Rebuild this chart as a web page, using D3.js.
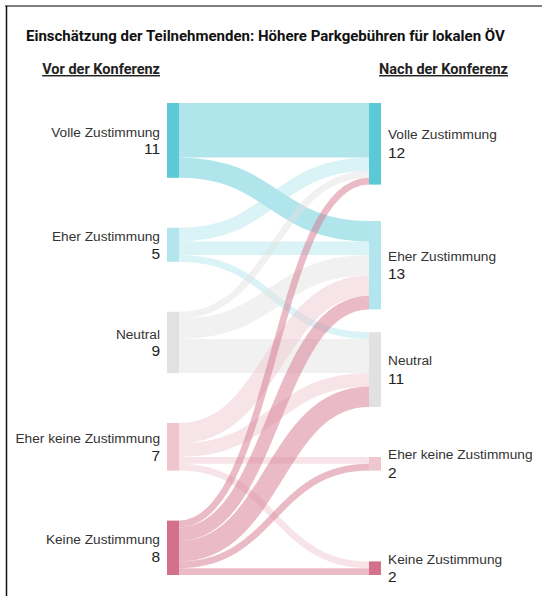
<!DOCTYPE html>
<html>
<head>
<meta charset="utf-8">
<script src="https://cdn.jsdelivr.net/npm/d3@7"></script>
<style>
  html, body { margin: 0; padding: 0; background: #fff; }
  svg { display: block; }
</style>
</head>
<body>
<svg id="chart"></svg>
<script>
// chart size
const width = 542;
const height = 596;

// answer categories, same on both sides
const categories = ["Volle Zustimmung", "Eher Zustimmung", "Neutral", "Eher keine Zustimmung", "Keine Zustimmung"];

// totals per category before / after
const before = [11, 5, 9, 7, 8];
const after = [12, 13, 11, 2, 2];

// flows: rows = before, columns = after
const flows = [
    [8, 3, 0, 0, 0],
    [2, 2, 1, 0, 0],
    [1, 3, 5, 0, 0],
    [0, 3, 2, 1, 1],
    [1, 2, 3, 1, 1]
];

const title = "Einschätzung der Teilnehmenden: Höhere Parkgebühren für lokalen ÖV";
const headers = ["Vor der Konferenz", "Nach der Konferenz"];

// node colours per category
const colors = ["#5cc9d7", "#b2e5ee", "#e1e1e1", "#efc6d0", "#d4718a"];

// layout
const yTop = 103, yBottom = 575;
const leftX = 167, rightX = 369, nodeW = 12;
const nodePad = 50;
const minGap = 10;

const svg = d3.select("#chart")
    .attr("width", width)
    .attr("height", height);

// screenshot frame
svg.append("line").attr("x1", 5).attr("x2", width).attr("y1", 6).attr("y2", 6)
    .attr("stroke", "#808080").attr("stroke-width", 2);
svg.append("line").attr("x1", 6.5).attr("x2", 6.5).attr("y1", 6).attr("y2", height)
    .attr("stroke", "#111").attr("stroke-width", 1.5);

const total = d3.sum(before);
const ky = d3.scaleLinear()
    .domain([0, total])
    .range([0, (yBottom - yTop) - (categories.length - 1) * nodePad]);

// left nodes, stacked with even padding
const leftNodes = [];
let y = yTop;
before.forEach((v, i) => {
    leftNodes.push({i, value: v, x0: leftX, x1: leftX + nodeW, y0: y, y1: y + ky(v)});
    y += ky(v) + nodePad;
});

// links with offsets inside source (sorted by target) and target (sorted by source)
const links = [];
flows.forEach((row, s) => row.forEach((v, t) => {
    if (v > 0) links.push({s, t, value: v, w: ky(v)});
}));
links.forEach(l => {
    l.sOff = ky(d3.sum(flows[l.s].slice(0, l.t)));
    l.tOff = ky(d3.sum(flows.slice(0, l.s), r => r[l.t]));
});

// right nodes: align so the "same answer" link runs straight, then push apart
const rightNodes = after.map((v, j) => {
    const self = links.find(l => l.s === j && l.t === j);
    const y0 = leftNodes[j].y0 + self.sOff - self.tOff;
    return {i: j, value: v, x0: rightX, x1: rightX + nodeW, y0, y1: y0 + ky(v)};
});
let prev = yTop - minGap;
rightNodes.forEach(n => {
    const h = n.y1 - n.y0;
    n.y0 = Math.max(n.y0, prev + minGap);
    n.y1 = n.y0 + h;
    prev = n.y1;
});
// clamp to bottom, walking upward
let next = yBottom + minGap;
for (let k = rightNodes.length - 1; k >= 0; k--) {
    const n = rightNodes[k];
    const h = n.y1 - n.y0;
    n.y1 = Math.min(n.y1, next - minGap);
    n.y0 = n.y1 - h;
    next = n.y0;
}

const linkPath = d3.linkHorizontal()
    .source(d => [leftNodes[d.s].x1, leftNodes[d.s].y0 + d.sOff + d.w / 2])
    .target(d => [rightNodes[d.t].x0, rightNodes[d.t].y0 + d.tOff + d.w / 2]);

svg.append("g")
    .attr("fill", "none")
    .selectAll("path")
    .data(links)
    .join("path")
    .attr("d", linkPath)
    .attr("stroke", d => colors[d.s])
    .attr("stroke-opacity", 0.48)
    .attr("stroke-width", d => d.w);

// nodes
svg.append("g")
    .selectAll("rect")
    .data(leftNodes.concat(rightNodes))
    .join("rect")
    .attr("x", d => d.x0)
    .attr("y", d => d.y0)
    .attr("width", nodeW)
    .attr("height", d => d.y1 - d.y0)
    .attr("fill", d => colors[d.i]);

// labels
function drawLabels(nodes, side) {
    const g = svg.append("g")
        .attr("font-family", "'Liberation Sans', Arial, sans-serif")
        .attr("text-anchor", side === "left" ? "end" : "start");
    const lx = d => side === "left" ? d.x0 - 7 : d.x1 + 7;
    const cy = d => (d.y0 + d.y1) / 2;
    g.selectAll("text.name")
        .data(nodes)
        .join("text")
        .attr("class", "name")
        .attr("x", lx)
        .attr("y", d => cy(d) - (side === "left" ? 3.5 : 4.5))
        .attr("font-size", 13.7)
        .attr("fill", "#333")
        .text(d => categories[d.i]);
    g.selectAll("text.value")
        .data(nodes)
        .join("text")
        .attr("class", "value")
        .attr("x", lx)
        .attr("y", d => cy(d) + 14)
        .attr("font-size", 15.5)
        .attr("fill", "#222")
        .text(d => d.value);
}
drawLabels(leftNodes, "left");
drawLabels(rightNodes, "right");

// title and column headers
svg.append("text")
    .attr("x", 26)
    .attr("y", 41)
    .attr("font-family", "Roboto, sans-serif")
    .attr("font-weight", "bold")
    .attr("font-size", 15)
    .attr("fill", "#111")
    .text(title);

svg.append("text")
    .attr("x", leftX - 7)
    .attr("y", 74)
    .attr("text-anchor", "end")
    .attr("font-family", "Roboto, sans-serif")
    .attr("font-weight", "bold")
    .attr("font-size", 14.5)
    .attr("fill", "#222")
    .attr("text-decoration", "underline")
    .text(headers[0]);

svg.append("text")
    .attr("x", 508)
    .attr("y", 74)
    .attr("text-anchor", "end")
    .attr("font-family", "Roboto, sans-serif")
    .attr("font-weight", "bold")
    .attr("font-size", 14.5)
    .attr("fill", "#222")
    .attr("text-decoration", "underline")
    .text(headers[1]);
</script>
</body>
</html>
